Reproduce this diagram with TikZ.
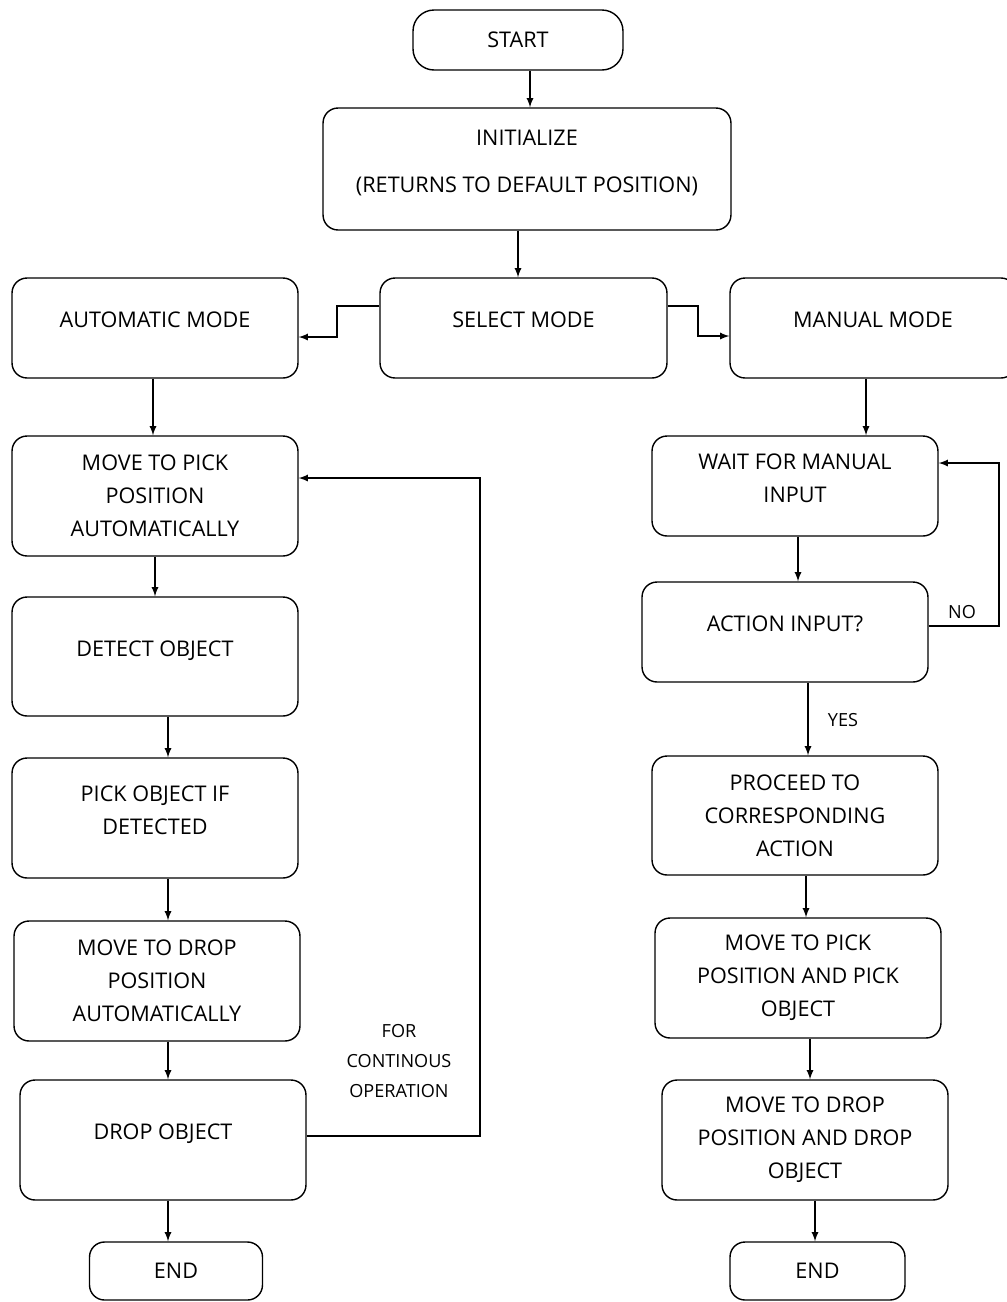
\documentclass[tikz,border=0pt]{standalone}
\usepackage{fontspec}
\setmainfont{Open Sans}
\usetikzlibrary{arrows}

\begin{document}
\begin{tikzpicture}[x=0.02cm, y=-0.02cm, >=latex, line width=0.8pt,
  box/.style={draw, rounded corners=0.3cm, align=center, inner sep=0pt,
    minimum width=5.72cm, minimum height=2.4cm, font=\fontsize{12.3}{18.8}\selectfont},
  short/.style={minimum height=2cm},
  upper/.style={text depth=9pt},
  endbox/.style={box, minimum width=3.46cm, minimum height=1.16cm},
  note/.style={align=center, inner sep=0pt, font=\fontsize{10.3}{16.8}\selectfont}]
\useasboundingbox (0,0) rectangle (1007,1302);
\node[box, minimum width=4.2cm, minimum height=1.2cm, rounded corners=0.42cm] (start) at (518,40) {START};
\node[box, upper, minimum width=8.16cm, minimum height=2.44cm] (init) at (527,169) {INITIALIZE\\[8pt](RETURNS TO DEFAULT POSITION)};
\node[box, short, upper, minimum width=5.74cm] (select) at (523.5,328) {SELECT MODE};
\node[box, short, upper] (auto) at (155,328) {AUTOMATIC MODE};
\node[box, short, upper] (manual) at (873,328) {MANUAL MODE};
\node[box] (mpick) at (155,496) {MOVE TO PICK\\POSITION\\AUTOMATICALLY};
\node[box, upper, minimum height=2.38cm] (detect) at (155,656.5) {DETECT OBJECT};
\node[box, upper] (pickobj) at (155,818) {PICK OBJECT IF\\DETECTED};
\node[box] (mdrop) at (157,981) {MOVE TO DROP\\POSITION\\AUTOMATICALLY};
\node[box, upper] (drop) at (163,1140) {DROP OBJECT};
\node[endbox] (endL) at (176,1271) {END};
\node[box, short, upper] (wait) at (795,486) {WAIT FOR MANUAL\\INPUT};
\node[box, short, upper] (action) at (785,632) {ACTION INPUT?};
\node[box, minimum height=2.38cm] (proceed) at (795,815.5) {PROCEED TO\\CORRESPONDING\\ACTION};
\node[box] (mpickM) at (798,978) {MOVE TO PICK\\POSITION AND PICK\\OBJECT};
\node[box] (mdropM) at (805,1140) {MOVE TO DROP\\POSITION AND DROP\\OBJECT};
\node[endbox, minimum width=3.5cm] (endR) at (817.5,1271) {END};
\node[note] (no) at (962,612) {NO};
\node[note] (yes) at (843,720) {YES};
\node[note] (cont) at (399,1061) {FOR\\CONTINOUS\\OPERATION};
\draw[->] (start.south -| 530,0) -- (init.north -| 530,0);
\draw[->] (init.south -| 518,0) -- (select.north -| 518,0);
\draw[->] (select.west |- 0,306) -- (337,306) -- (337,337) -- (auto.east |- 0,337);
\draw[->] (select.east |- 0,306) -- (698,306) -- (698,336) -- (manual.west |- 0,336);
\draw[->] (auto.south -| 153,0) -- (mpick.north -| 153,0);
\draw[->] (mpick.south -| 155,0) -- (detect.north -| 155,0);
\draw[->] (detect.south -| 168,0) -- (pickobj.north -| 168,0);
\draw[->] (pickobj.south -| 168,0) -- (mdrop.north -| 168,0);
\draw[->] (mdrop.south -| 168,0) -- (drop.north -| 168,0);
\draw[->] (drop.south -| 168,0) -- (endL.north -| 168,0);
\draw[->] (drop.east |- 0,1136) -- (480,1136) -- (480,478) -- (mpick.east |- 0,478);
\draw[->] (manual.south -| 866,0) -- (wait.north -| 866,0);
\draw[->] (wait.south -| 798,0) -- (action.north -| 798,0);
\draw[->] (action.south -| 808,0) -- (proceed.north -| 808,0);
\draw[->] (action.east |- 0,626) -- (999,626) -- (999,463) -- (wait.east |- 0,463);
\draw[->] (proceed.south -| 806,0) -- (mpickM.north -| 806,0);
\draw[->] (mpickM.south -| 810,0) -- (mdropM.north -| 810,0);
\draw[->] (mdropM.south -| 815,0) -- (endR.north -| 815,0);
\end{tikzpicture}
\end{document}
